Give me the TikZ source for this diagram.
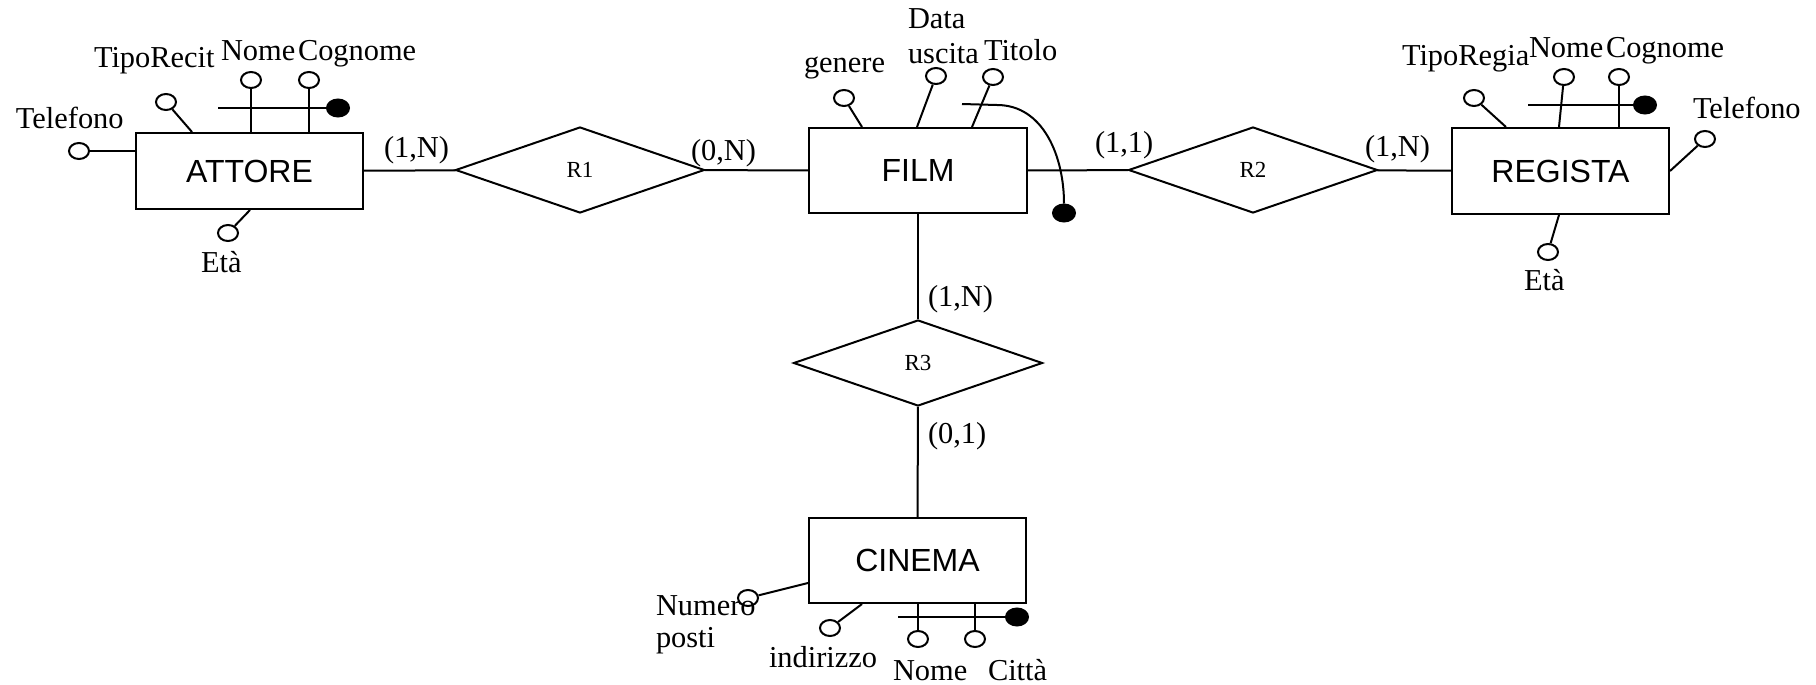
\documentclass[tikz,border=0pt]{standalone}
\usepackage{fontspec}
\setmainfont{Liberation Serif}
\newfontfamily\entfont{Liberation Sans}
\usetikzlibrary{shapes.geometric,calc}

\begin{document}
\begin{tikzpicture}[x=0.5pt,y=-0.5pt,line width=1pt]
        \tikzstyle{ent}=[draw,rectangle,inner sep=0pt,font=\entfont\fontsize{16}{19}\selectfont]
        \tikzstyle{rel}=[draw,diamond,inner sep=0pt,minimum width=124.5pt,minimum height=43pt,font=\fontsize{11.5}{14}\selectfont]
        \tikzstyle{attr}=[draw,ellipse,inner sep=0pt,minimum width=10pt,minimum height=8pt]
        \tikzstyle{keydot}=[attr,fill=black,minimum width=11pt,minimum height=8.5pt]
        \tikzstyle{lbl}=[inner sep=0pt,anchor=base west,font=\fontsize{15.2}{17.5}\selectfont]
        \useasboundingbox (0,0) rectangle (1816,685);

        % entities and relationships
        \node[ent,minimum width=113.5pt,minimum height=38pt] (attore) at (249.5,171) {ATTORE};
        \node[ent,minimum width=109pt,minimum height=42.5pt] (film) at (918,170.5) {FILM};
        \node[ent,minimum width=108.5pt,minimum height=43pt] (regista) at (1560.5,171) {REGISTA};
        \node[ent,minimum width=108.5pt,minimum height=42.5pt] (cinema) at (917.5,560.5) {CINEMA};
        \node[rel] (r1) at (580,170) {R1};
        \node[rel] (r2) at (1253,170) {R2};
        \node[rel] (r3) at (918,363) {R3};
        \draw (attore) -- (r1);
        \draw (r1) -- (film);
        \draw (film) -- (r2);
        \draw (r2) -- (regista);
        \draw (film) -- (r3);
        \draw (r3) -- (cinema);
        \node[lbl] (c1) at (383,157) {(1,N)};
        \node[lbl] (c2) at (690,160) {(0,N)};
        \node[lbl] (c3) at (1094,152) {(1,1)};
        \node[lbl] (c4) at (1364,156) {(1,N)};
        \node[lbl] (c5) at (927,306) {(1,N)};
        \node[lbl] (c6) at (927,443) {(0,1)};

        % ATTORE
        \node[attr] (atel) at (79,151) {};
        \node[attr] (atipo) at (166,102) {};
        \node[attr] (anome) at (251,80) {};
        \node[attr] (acogn) at (309,80) {};
        \node[attr] (aeta) at (228,233) {};
        \node[keydot] (akey) at (338,108) {};
        \coordinate (akeyend) at (218,108);
        \draw (atel) -- ($(attore.north west)+(0,19)$);
        \draw (atipo) -- ($(attore.north west)+(57,0)$);
        \draw (anome) -- (anome |- attore.north);
        \draw (acogn) -- (acogn |- attore.north);
        \draw (aeta) -- ($(attore.south west)+(115,0)$);
        \draw (akeyend) -- (akey);
        \node[lbl] (ltela) at (15,128) {Telefono};
        \node[lbl] (ltipoa) at (93,68) {TipoRecit};
        \node[lbl] (lnomea) at (220,60) {Nome};
        \node[lbl] (lcogna) at (297,60) {Cognome};
        \node[lbl] (letaa) at (200,272) {Età};

        % FILM
        \node[attr] (fgen) at (844,98) {};
        \node[attr] (fdata) at (936,76) {};
        \node[attr] (ftit) at (993,77) {};
        \node[keydot] (fkey) at (1064,213) {};
        \coordinate (fkeyend) at (962,104);
        \draw (fgen) -- ($(film.north west)+(54,0)$);
        \draw (fdata) -- ($(film.north west)+(109,0)$);
        \draw (ftit) -- ($(film.north west)+(164,0)$);
        \draw (fkeyend) -- ++(35,1) to[out=0,in=90] (fkey);
        \node[lbl] (lgen) at (803,72) {genere};
        \node[lbl,align=left] (ldata) at (907,63) {Data\\uscita};
        \node[lbl] (ltit) at (983,60) {Titolo};

        % REGISTA
        \node[attr] (rtipo) at (1474,98) {};
        \node[attr] (rnome) at (1564,77) {};
        \node[attr] (rcogn) at (1619,77) {};
        \node[attr] (rtel) at (1705,139) {};
        \node[attr] (reta) at (1548,252) {};
        \node[keydot] (rkey) at (1645,105) {};
        \coordinate (rkeyend) at (1528,105);
        \draw (rtipo) -- ($(regista.north west)+(55,0)$);
        \draw (rnome) -- ($(regista.north west)+(108,0)$);
        \draw (rcogn) -- (rcogn |- regista.north);
        \draw (rtel) -- (regista.east);
        \draw (reta) -- ($(regista.south west)+(108,0)$);
        \draw (rkeyend) -- (rkey);
        \node[lbl] (ltipor) at (1401,65) {TipoRegia};
        \node[lbl] (lnomer) at (1528,57) {Nome};
        \node[lbl] (lcognr) at (1605,57) {Cognome};
        \node[lbl] (ltelr) at (1692,118) {Telefono};
        \node[lbl] (letar) at (1523,290) {Età};

        % CINEMA
        \node[attr] (cnum) at (748,598) {};
        \node[attr] (cind) at (830,628) {};
        \node[attr] (cnome) at (918,639) {};
        \node[attr] (ccitta) at (975,639) {};
        \node[keydot] (ckey) at (1017,617) {};
        \coordinate (ckeyend) at (898,617);
        \draw (cnum) -- ($(cinema.south west)+(0,-21)$);
        \draw (cind) -- ($(cinema.south west)+(54,0)$);
        \draw (cnome) -- (cnome |- cinema.south);
        \draw (ccitta) -- (ccitta |- cinema.south);
        \draw (ckeyend) -- (ckey);
        \node[lbl,align=left,font=\fontsize{15.2}{16}\selectfont] (lnum) at (655,647) {Numero\\posti};
        \node[lbl] (lind) at (768,667) {indirizzo};
        \node[lbl] (lnomec) at (892,680) {Nome};
        \node[lbl] (lcitta) at (987,680) {Città};
\end{tikzpicture}
\end{document}
